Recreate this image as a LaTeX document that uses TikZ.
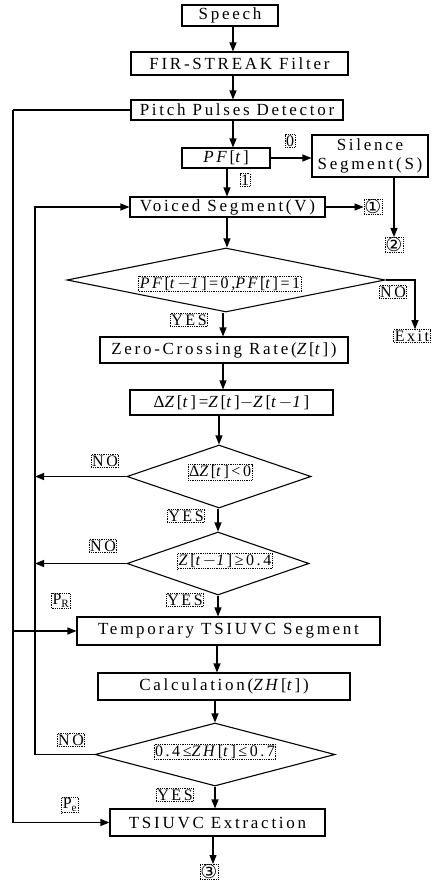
\documentclass[tikz,border=0pt]{standalone}
\usepackage{fontspec}
\setmainfont[LetterSpace=16]{Liberation Serif}
\newfontfamily\symfont{DejaVu Sans}
\usetikzlibrary{shapes.geometric,arrows.meta}
\begin{document}
\begin{tikzpicture}[x=1pt,y=-1pt,
  box/.style={draw, line width=1.1pt, inner sep=0pt, font=\fontsize{17}{19}\selectfont},
  lbl/.style={draw, densely dotted, line width=0.8pt, inner sep=1pt, font=\fontsize{16}{17}\selectfont},
  sym/.style={lbl, font=\symfont\fontsize{19}{20}\selectfont, inner sep=0.5pt},
  dia/.style={draw, diamond, line width=1.1pt, inner sep=0pt},
  arr/.style={line width=1.1pt, -{Triangle[length=9pt,width=7pt]}},
  ln/.style={line width=1.1pt}]
\useasboundingbox[fill=white] (0,0) rectangle (442,883);
% boxes
\node[box, minimum width=96, minimum height=21] (speech) at (230,15.5) {Speech};
\node[box, minimum width=217, minimum height=23] (fir) at (239.5,63.5) {FIR-STREAK Filter};
\node[box, minimum width=212, minimum height=20] (pitch) at (237,110) {Pitch Pulses Detector};
\node[box, minimum width=88, minimum height=20] (pf) at (226,158) {\textit{PF}[\textit{t}]};
\node[box, minimum width=116, minimum height=42, align=center] (silence) at (370,156) {Silence\\Segment(S)};
\node[box, minimum width=195, minimum height=20] (voiced) at (227.5,207) {Voiced Segment(V)};
\node[dia, minimum width=318, minimum height=64] (d1) at (226,280) {};
\node[lbl] (d1t) at (220,284) {\textit{PF}[\textit{t}$-$\textit{1}]=0,\textit{PF}[\textit{t}]=1};
\node[box, minimum width=248, minimum height=26] (zero) at (224,350) {Zero-Crossing Rate(\textit{Z}[\textit{t}])};
\node[box, minimum width=203, minimum height=25] (dz) at (231.5,402.5) {Δ\textit{Z}[\textit{t}]=\textit{Z}[\textit{t}]$-$\textit{Z}[\textit{t}$-$\textit{1}]};
\node[dia, minimum width=184, minimum height=63] (d2) at (219,476.5) {};
\node[lbl] (d2t) at (220,472.5) {Δ\textit{Z}[\textit{t}]<0};
\node[dia, minimum width=182, minimum height=63] (d3) at (218,563.5) {};
\node[lbl] (d3t) at (225,561) {\textit{Z}[\textit{t}$-$\textit{1}]≥0.4};
\node[box, minimum width=303, minimum height=28] (temp) at (228.5,631) {Temporary TSIUVC Segment};
\node[box, minimum width=252, minimum height=27] (calc) at (224,686.5) {Calculation(\textit{ZH}[\textit{t}])};
\node[dia, minimum width=240, minimum height=63] (d4) at (215,754.5) {};
\node[lbl] (d4t) at (215,752) {0.4≤\textit{ZH}[\textit{t}]≤0.7};
\node[box, minimum width=215, minimum height=27] (ext) at (217.5,822.5) {TSIUVC Extraction};
% labels
\node[lbl] (l0) at (290,141) {0};
\node[lbl] (l1) at (245,180) {1};
\node[sym] (c1) at (373,207) {①};
\node[sym] (c2) at (394,245) {②};
\node[sym] (c3) at (209,872) {③};
\node[lbl] (no1) at (393,292) {NO};
\node[lbl] (exit) at (412,336) {Exit};
\node[lbl] (yes1) at (189,320) {YES};
\node[lbl] (no2) at (105,461) {NO};
\node[lbl] (yes2) at (186,516) {YES};
\node[lbl] (no3) at (103,546) {NO};
\node[lbl] (yes3) at (185,600) {YES};
\node[lbl] (pr) at (61,601) {P\textsubscript{R}};
\node[lbl] (no4) at (71,740) {NO};
\node[lbl] (yes4) at (175,795) {YES};
\node[lbl] (pe) at (70,805) {P\textsubscript{e}};
% left rails
\coordinate (oL) at (13,0);
\coordinate (iL) at (35,0);
% vertical flow
\draw[arr] (speech.south -| 233,0) -- (fir.north -| 233,0);
\draw[arr] (fir.south -| 233,0) -- (pitch.north -| 233,0);
\draw[arr] (pitch.south -| 233,0) -- (pf.north -| 233,0);
\draw[arr] (pf.south -| 227,0) -- (voiced.north -| 227,0);
\draw[arr] (voiced.south -| 227,0) -- (d1.north -| 227,0);
\draw[arr] (d1.south -| 223,0) -- (zero.north -| 223,0);
\draw[arr] (zero.south -| 223,0) -- (dz.north -| 223,0);
\draw[arr] (dz.south -| 219,0) -- (d2.north);
\draw[arr] (d2.south -| 218,0) -- (d3.north);
\draw[arr] (d3.south) -- (temp.north -| d3.south);
\draw[arr] (temp.south -| 217,0) -- (calc.north -| 217,0);
\draw[arr] (calc.south -| 215,0) -- (d4.north);
\draw[arr] (d4.south) -- (ext.north -| d4.south);
\draw[arr] (ext.south -| 213,0) -- (c3.north -| 213,0);
% side branches
\draw[arr] (pf.east) -- (pf.east -| silence.west);
\draw[arr] (silence.south -| c2) -- (c2.north);
\draw[arr] (voiced.east) -- (c1.west);
\draw[arr] (d1.east) -- (d1.east -| 415,0) -- (exit.north -| 415,0);
\draw[ln] (pitch.west) -- (pitch.west -| oL);
\draw[arr] (pitch.west -| oL) |- (ext.west);
\draw[arr] (temp.west -| oL) -- (temp.west);
\draw[arr] (d4.west) -- (d4.west -| iL) |- (voiced.west);
\draw[arr] (d2.west) -- (d2.west -| iL);
\draw[arr] (d3.west) -- (d3.west -| iL);
\end{tikzpicture}
\end{document}
